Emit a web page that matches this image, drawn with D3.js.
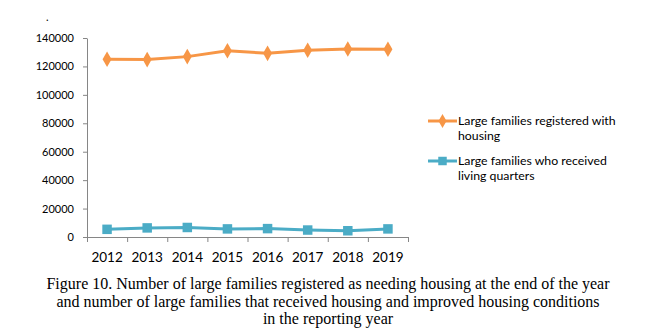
<!DOCTYPE html>
<html>
<head>
<meta charset="utf-8">
<script src="https://cdn.jsdelivr.net/npm/d3@7"></script>
<style>
  body { margin: 0; background: #fff; }
  .axis path, .axis line { stroke: #868686; }
  .axis text { fill: #000; font-family: Lato, sans-serif; }
  .legendText { font-family: Lato, sans-serif; font-size: 12.3px; fill: #000; }
  .caption { font-family: "Liberation Serif", "Times New Roman", serif; font-size: 16px; fill: #000; }
</style>
</head>
<body>
<div id="chart"></div>
<script>
// data
var years = ["2012", "2013", "2014", "2015", "2016", "2017", "2018", "2019"];
var registered = [125000, 124800, 126900, 131000, 129200, 131400, 132300, 132100];
var received = [5400, 6400, 6700, 5700, 5900, 4900, 4400, 5700];
var yTicks = [0, 20000, 40000, 60000, 80000, 100000, 120000, 140000];
var seriesNames = [["Large families registered with", "housing"], ["Large families who received", "living quarters"]];
var captionLines = [
    "Figure 10. Number of large families registered as needing housing at the end of the year",
    "and number of large families that received housing and improved housing conditions",
    "in the reporting year"
];

var width = 657, height = 332;
var margin = { left: 87, right: 249, top: 38, bottom: 95 };
var plotW = width - margin.left - margin.right;
var plotH = height - margin.top - margin.bottom;

var svg = d3.select("#chart").append("svg")
    .attr("width", width)
    .attr("height", height);

var g = svg.append("g")
    .attr("transform", "translate(" + margin.left + "," + margin.top + ")");

var xScale = d3.scaleBand().domain(years).range([0, plotW]).padding(0);
var xEdges = d3.scaleLinear().domain([0, years.length]).range([0, plotW]);
var yScale = d3.scaleLinear().domain([0, 140000]).range([plotH, 0]);

// y axis
g.append("g")
    .attr("class", "axis")
    .call(d3.axisLeft(yScale).tickValues(yTicks).tickSize(4).tickSizeOuter(0).tickPadding(9).tickFormat(d3.format("d")))
    .selectAll("text").style("font-size", "11px");

// x axis ticks at category edges
g.append("g")
    .attr("class", "axis")
    .attr("transform", "translate(0," + plotH + ")")
    .call(d3.axisBottom(xEdges).ticks(years.length).tickSize(5).tickSizeOuter(0).tickFormat(""));

// x axis labels
var xLab = g.append("g")
    .attr("class", "axis")
    .attr("transform", "translate(0," + plotH + ")")
    .call(d3.axisBottom(xScale).tickSize(0).tickPadding(15));
xLab.select(".domain").remove();
xLab.selectAll("text").style("font-size", "13.5px");

var series = [
    { values: registered, color: "#F79646", shape: d3.symbolDiamond, size: 70 },
    { values: received, color: "#4BACC6", shape: d3.symbolSquare, size: 90 }
];

var line = d3.line()
    .x(function (d, i) { return xScale(years[i]) + xScale.bandwidth() / 2; })
    .y(function (d) { return yScale(d); });

series.forEach(function (s) {
    g.append("path")
        .datum(s.values)
        .attr("fill", "none")
        .attr("stroke", s.color)
        .attr("stroke-width", 3)
        .attr("d", line);

    g.selectAll(null)
        .data(s.values)
        .enter()
        .append("path")
        .attr("d", d3.symbol().type(s.shape).size(s.size))
        .attr("fill", s.color)
        .attr("transform", function (d, i) {
            return "translate(" + (xScale(years[i]) + xScale.bandwidth() / 2) + "," + yScale(d) + ")";
        });
});

// legend
var legend = svg.append("g").attr("transform", "translate(428,121)");
series.forEach(function (s, i) {
    var item = legend.append("g").attr("transform", "translate(0," + (i * 40) + ")");
    item.append("line")
        .attr("x1", 0).attr("x2", 29)
        .attr("stroke", s.color).attr("stroke-width", 3);
    item.append("path")
        .attr("d", d3.symbol().type(s.shape).size(s.size * 0.8))
        .attr("fill", s.color)
        .attr("transform", "translate(14.5,0)");
    var t = item.append("text").attr("class", "legendText").attr("x", 30).attr("y", 4);
    seriesNames[i].forEach(function (str, k) {
        t.append("tspan").attr("x", 30).attr("dy", k == 0 ? 0 : 15).text(str);
    });
});

// stray dot at the top left
svg.append("text")
    .attr("x", 46).attr("y", 21)
    .style("font-family", "Lato, sans-serif").style("font-size", "11px")
    .text(".");

// caption
svg.append("g").selectAll("text")
    .data(captionLines)
    .enter()
    .append("text")
    .attr("class", "caption")
    .attr("x", 328)
    .attr("y", function (d, i) { return 289 + i * 17.5; })
    .attr("text-anchor", "middle")
    .text(function (d) { return d; });
</script>
</body>
</html>
